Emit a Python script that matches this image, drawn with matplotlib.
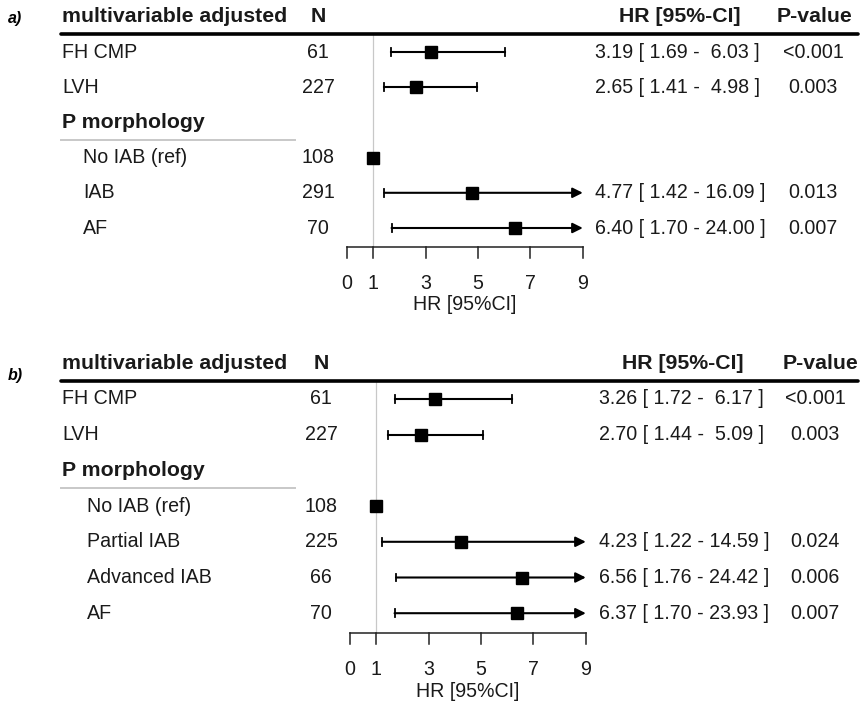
import matplotlib
matplotlib.use("Agg")
import matplotlib.pyplot as plt
import matplotlib.transforms as mtransforms

plt.rcParams['font.family'] = ['Liberation Sans', 'DejaVu Sans']

# ---------------- data ----------------
a_labels = ["FH CMP", "LVH", "P morphology", "No IAB (ref)", "IAB", "AF"]
a_group = [False, False, True, False, False, False]
a_n = ["61", "227", "", "108", "291", "70"]
a_hr = [3.19, 2.65, None, 1.00, 4.77, 6.40]
a_lo = [1.69, 1.41, None, 1.00, 1.42, 1.70]
a_hi = [6.03, 4.98, None, 1.00, 16.09, 24.00]
a_p = ["<0.001", "0.003", "", "", "0.013", "0.007"]

b_labels = ["FH CMP", "LVH", "P morphology", "No IAB (ref)", "Partial IAB",
            "Advanced IAB", "AF"]
b_group = [False, False, True, False, False, False, False]
b_n = ["61", "227", "", "108", "225", "66", "70"]
b_hr = [3.26, 2.70, None, 1.00, 4.23, 6.56, 6.37]
b_lo = [1.72, 1.44, None, 1.00, 1.22, 1.76, 1.70]
b_hi = [6.17, 5.09, None, 1.00, 14.59, 24.42, 23.93]
b_p = ["<0.001", "0.003", "", "", "0.024", "0.006", "0.007"]

x_ticks = [0, 1, 3, 5, 7, 9]
x_max = 9
ref_value = 1
header_cols = ["multivariable adjusted", "N", "HR [95%-CI]", "P-value"]
x_label = "HR [95%CI]"

W, H = 863, 703
FS = 14.1
FSB = 15.3
TXT = "#1a1a1a"

fig = plt.figure(figsize=(W / 100, H / 100), dpi=100)


def panel(tag, labels, group, n, hr, lo, hi, p, top, bottom, row0, sp, x0, sc,
          ncol, hrcol, pcol, hrhead, phead, tagy, indent):
    ax = fig.add_axes([0, 1 - bottom / H, 1, (bottom - top) / H])
    ax.set_axis_off()
    ax.set_xlim(-x0 / sc, (W - x0) / sc)
    ax.set_ylim((bottom - row0) / sp, (top - row0) / sp)
    bt = mtransforms.blended_transform_factory(ax.transAxes, ax.transData)
    last = len(labels) - 1
    yhead = -1.0
    yline = -0.5
    yaxis = last + 0.55

    # tag
    ax.text(8 / W, tagy, tag, transform=bt, fontsize=11.5, fontweight='bold',
            fontstyle='italic', va='center', ha='left', color='black')
    # header
    ax.text(62 / W, yhead, header_cols[0], transform=bt, fontsize=FSB,
            fontweight='bold', va='center', ha='left', color=TXT)
    ax.text(ncol / W, yhead, header_cols[1], transform=bt, fontsize=FSB,
            fontweight='bold', va='center', ha='center', color=TXT)
    ax.text(hrhead / W, yhead, header_cols[2], transform=bt, fontsize=FSB,
            fontweight='bold', va='center', ha='center', color=TXT)
    ax.text(phead / W, yhead, header_cols[3], transform=bt, fontsize=FSB,
            fontweight='bold', va='center', ha='center', color=TXT)
    ax.plot([61 / W, 858 / W], [yline, yline], transform=bt, color='black',
            lw=2.6, solid_capstyle='round')

    # reference line
    ax.plot([ref_value, ref_value], [yline, yaxis], color='#c8c8c8', lw=0.9,
            zorder=0)

    in_group = False
    for i, lab in enumerate(labels):
        if group[i]:
            in_group = True
            ax.text(62 / W, i, lab, transform=bt, fontsize=FSB,
                    fontweight='bold', va='center', ha='left', color=TXT)
            ax.plot([61 / W, 295 / W], [i + 0.5, i + 0.5], transform=bt,
                    color='#c8c8c8', lw=1.4)
            continue
        xl = (indent if in_group else 62) / W
        ax.text(xl, i, lab, transform=bt, fontsize=FS, va='center',
                ha='left', color=TXT)
        ax.text(ncol / W, i, n[i], transform=bt, fontsize=FS, va='center',
                ha='center', color=TXT)
        if p[i]:
            ax.text(pcol / W, i, p[i], transform=bt, fontsize=FS,
                    va='center', ha='center', color=TXT)
        if hr[i] is None:
            continue
        if lo[i] != hi[i]:
            ax.text(hrcol / W, i,
                    f"{hr[i]:.2f} [ {lo[i]:.2f} - {hi[i]:5.2f} ]",
                    transform=bt, fontsize=FS, va='center', ha='left',
                    color=TXT)
            ax.plot([lo[i], lo[i]], [i - 0.11, i + 0.11], color='black',
                    lw=1.3)
            if hi[i] <= x_max:
                ax.plot([lo[i], hi[i]], [i, i], color='black', lw=1.5)
                ax.plot([hi[i], hi[i]], [i - 0.11, i + 0.11], color='black',
                        lw=1.3)
            else:
                ax.annotate('', xy=(x_max, i), xytext=(lo[i], i),
                            arrowprops=dict(arrowstyle='-|>', color='black',
                                            lw=1.5, mutation_scale=15,
                                            shrinkA=0, shrinkB=0))
        ax.plot([hr[i]], [i], marker='s', ms=8.8, color='black',
                mec='black', zorder=5, linestyle='none')

    # x axis
    ax.plot([x_ticks[0], x_ticks[-1]], [yaxis, yaxis], color='#222222',
            lw=1.1)
    for t in x_ticks:
        ax.plot([t, t], [yaxis, yaxis + 0.3], color='#222222', lw=1.1)
        ax.text(t, yaxis + 1.02, str(t), fontsize=FS, va='center',
                ha='center', color=TXT)
    ax.text((x_ticks[0] + x_ticks[-1]) / 2, yaxis + 1.63, x_label,
            fontsize=FS, va='center', ha='center', color=TXT)
    return ax


panel("a)", a_labels, a_group, a_n, a_hr, a_lo, a_hi, a_p,
      top=0, bottom=335, row0=52, sp=35.2, x0=347, sc=26.2,
      ncol=318, hrcol=595, pcol=813, hrhead=680, phead=814, tagy=-0.95,
      indent=83)
panel("b)", b_labels, b_group, b_n, b_hr, b_lo, b_hi, b_p,
      top=335, bottom=703, row0=399, sp=35.7, x0=350, sc=26.2,
      ncol=321, hrcol=599, pcol=815, hrhead=683, phead=820, tagy=-0.67,
      indent=87)

fig.savefig("out.png", dpi=100)
